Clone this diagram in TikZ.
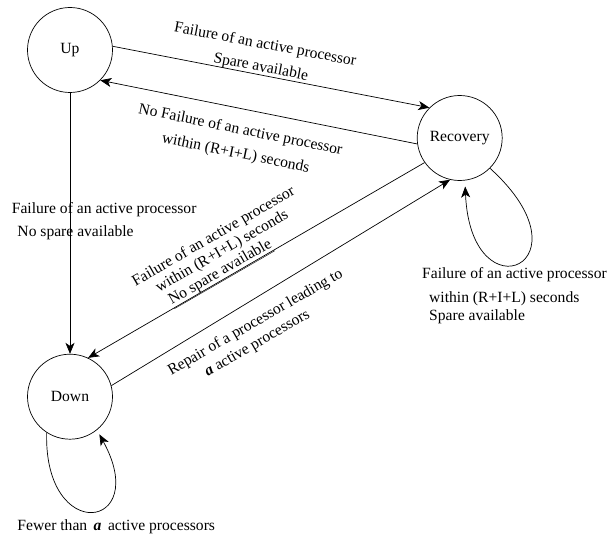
\documentclass[tikz,border=0pt]{standalone}
\usepackage{fontspec}
\setmainfont{Liberation Serif}
\usepackage{tikz}
\usetikzlibrary{positioning}
\usetikzlibrary{arrows.meta}
\tikzstyle{state node}=[draw,circle,minimum size=85pt,inner sep=0pt,line width=0.7pt,font=\fontsize{15.6}{17}\selectfont]
\tikzstyle{trans edge}=[-{Stealth[length=11pt,width=9pt,inset=3pt]},line width=0.7pt]
\tikzstyle{trans label}=[inner sep=0pt,align=center,font=\fontsize{15.6}{17}\selectfont]
\newcommand{\statenode}[3][]{
  \node [state node, #1] (#2) {#3}
}
\newcommand{\translabel}[4][]{
  \node [trans label, #1] (#2) at (#3) {#4}
}

\begin{document}
\begin{tikzpicture}[x=1pt,y=-1pt,node distance=1cm]
        \useasboundingbox (-70,-50) rectangle (545,485);
        \statenode{up}{Up};
        \statenode[below=261pt of up]{down}{Down};
        \statenode[right=304pt of up,yshift=-88pt]{recovery}{Recovery};

        % labels of the transitions
        \translabel[rotate=-10.6]{l1}{193,6.4}{Failure of an active processor\\[6pt]Spare available};
        \translabel[rotate=-11.5]{l2}{168,92}{No Failure of an active processor\\[7pt]within (R+I+L) seconds};
        \translabel[anchor=west,align=left]{l3}{-58.3,171.4}{Failure of an active processor\\[5.7pt]\hspace*{5.6pt}No spare available};
        \translabel[rotate=30]{l4}{152.7,202.5}{Failure of an active processor\\within (R+I+L) seconds\\\underline{No spare available}\hspace*{24pt}};
        \translabel[rotate=30]{l5}{190.4,280.8}{Repair of a processor leading to\\[2pt]\textbf{\textit{a}} active processors\hspace*{18pt}};
        \translabel[anchor=west,align=left]{l6}{352,246}{Failure of an active processor\\[7pt]\hspace*{7pt}within (R+I+L) seconds\\[1pt]\hspace*{7pt}Spare available};
        \translabel[anchor=west,align=left]{l7}{-52.7,477}{Fewer than \,\textbf{\textit{a}}\, active processors};

            \draw[trans edge] (up.5) -- (recovery.north west);
            \draw[trans edge] (recovery.188) -- (up.south east);
            \draw[trans edge] (up.south) -- (down.north);
            \draw[trans edge] (recovery.215) -- (down.65);
            \draw[trans edge] (down.15) -- (recovery.-103);

            \draw[trans edge,shorten >=6pt] (recovery.-45) .. controls +(105,95) and +(6,138) .. (recovery.-83);
            \draw[trans edge,shorten >=5pt] (down.-123) .. controls +(-3,113) and +(55,100) .. (down.-51);
        \end{tikzpicture}
\end{document}
